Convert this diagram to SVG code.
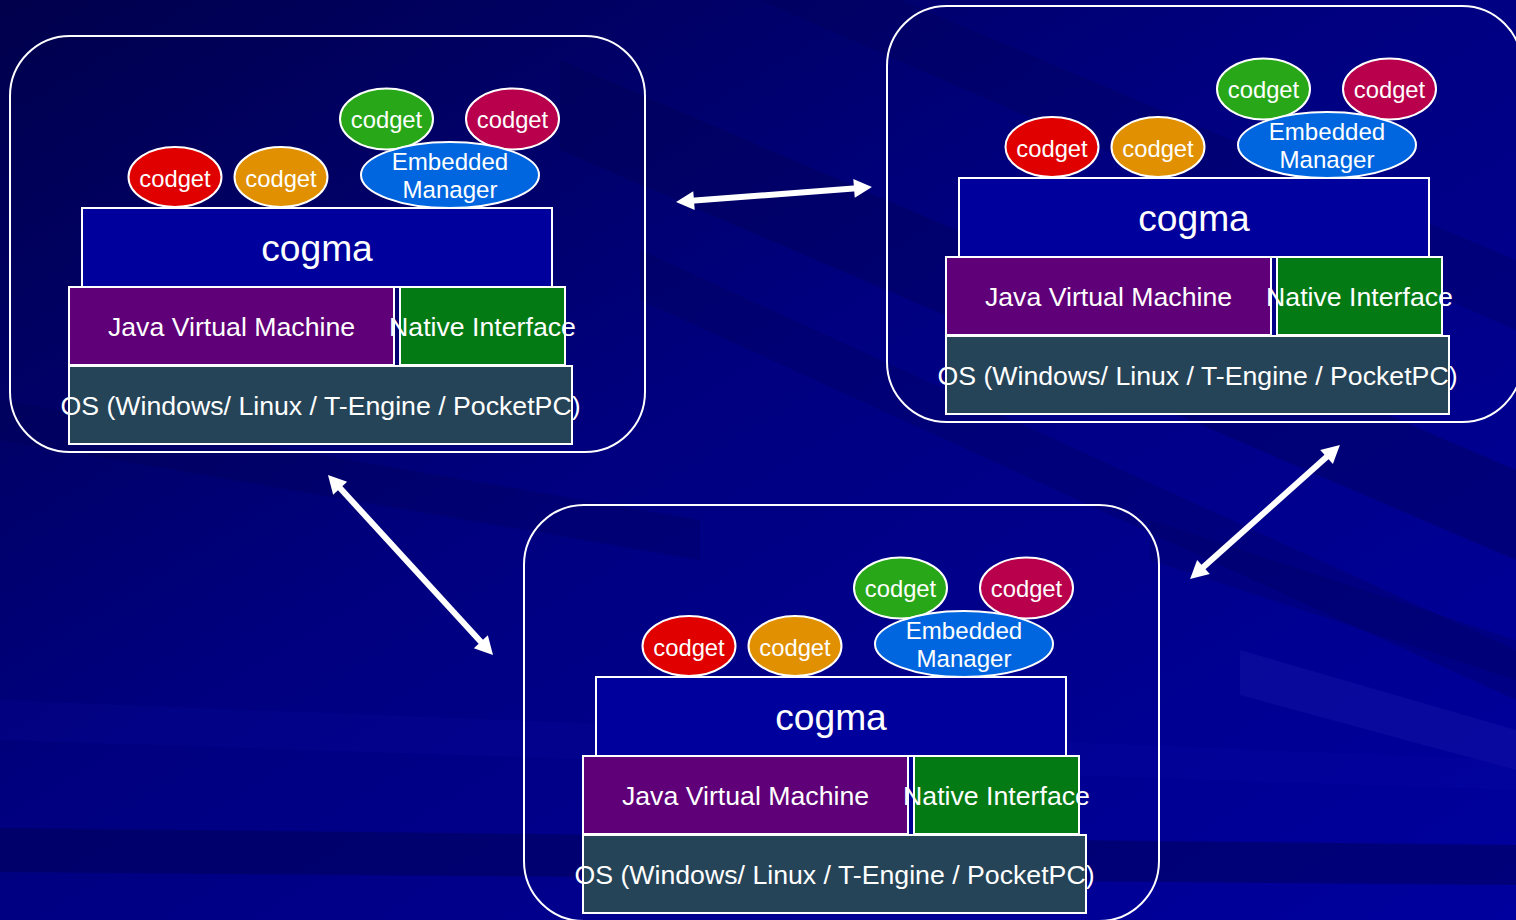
<svg xmlns="http://www.w3.org/2000/svg" width="1516" height="920" viewBox="0 0 1516 920">
  <defs>
    <linearGradient id="bg" x1="0" y1="0" x2="1" y2="1">
      <stop offset="0" stop-color="#00004c"/>
      <stop offset="0.45" stop-color="#000080"/>
      <stop offset="1" stop-color="#00009e"/>
    </linearGradient>
    <marker id="head" markerUnits="userSpaceOnUse" markerWidth="40" markerHeight="24" viewBox="-10 -12 30 24" refX="0" refY="0" orient="auto-start-reverse" overflow="visible">
      <path d="M-6,-9.5 L12,0 L-6,9.5 Z" fill="#ffffff"/>
    </marker>
    <style>
      .frame { fill: none; stroke: #ffffff; stroke-width: 2; }
      .box, .bubble { stroke: #ffffff; stroke-width: 2; }
      .cogma { fill: #00009c; }
      .jvm { fill: #5f0078; }
      .native { fill: #047a14; }
      .os { fill: #254458; }
      .red { fill: #e00000; }
      .orange { fill: #e09000; }
      .green { fill: #28a818; }
      .crimson { fill: #b8004c; }
      .manager { fill: #0066e0; }
      text { font-family: "Liberation Sans", Arial, sans-serif; fill: #ffffff; text-anchor: middle; }
      .t-small { font-size: 23.8px; }
      .t-mgr { font-size: 24.1px; }
      .t-mid { font-size: 26.7px; }
      .t-big { font-size: 37.2px; }
      .link { stroke: #ffffff; stroke-width: 6; fill: none; marker-start: url(#head); marker-end: url(#head); }
    </style>
  </defs>

  <!-- backdrop with soft diagonal streaks -->
  <g id="backdrop">
    <rect x="0" y="0" width="1516" height="920" fill="url(#bg)"/>
    <polygon points="560,60 1516,470 1516,560 560,150" fill="#000050" opacity="0.35"/>
    <polygon points="640,300 1516,700 1516,650 640,250" fill="#000050" opacity="0.25"/>
    <polygon points="900,0 1516,260 1516,330 760,0" fill="#000050" opacity="0.25"/>
    <polygon points="1150,560 1516,680 1516,640 1150,520" fill="#000060" opacity="0.3"/>
    <polygon points="1240,650 1516,730 1516,770 1240,695" fill="#3030c0" opacity="0.18"/>
    <polygon points="0,828 1516,845 1516,885 0,872" fill="#000050" opacity="0.45"/>
    <polygon points="0,740 1516,790 1516,760 0,700" fill="#1010b0" opacity="0.15"/>
    <polygon points="0,440 700,560 700,520 0,400" fill="#000040" opacity="0.2"/>
  </g>

  <!-- left host -->
  <g id="host-a">
    <rect class="frame" x="10" y="36" width="635" height="416" rx="60" ry="60"/>
    <g id="a-codget-red"><ellipse class="bubble red" cx="175" cy="177" rx="46.5" ry="30"/><text class="t-small" x="175" y="187">codget</text></g>
    <g id="a-codget-orange"><ellipse class="bubble orange" cx="281" cy="177" rx="46.5" ry="30"/><text class="t-small" x="281" y="187">codget</text></g>
    <g id="a-codget-green"><ellipse class="bubble green" cx="386.5" cy="119" rx="46.5" ry="30.5"/><text class="t-small" x="386.5" y="128">codget</text></g>
    <g id="a-codget-crimson"><ellipse class="bubble crimson" cx="512.5" cy="119" rx="46.5" ry="30.5"/><text class="t-small" x="512.5" y="128">codget</text></g>
    <g id="a-manager"><ellipse class="bubble manager" cx="450" cy="175" rx="89" ry="33"/><text class="t-mgr" x="450" y="170">Embedded</text><text class="t-mgr" x="450" y="198">Manager</text></g>
    <g id="a-cogma"><rect class="box cogma" x="82" y="208" width="470" height="79"/><text class="t-big" x="317" y="261">cogma</text></g>
    <g id="a-jvm"><rect class="box jvm" x="69" y="287" width="325" height="78"/><text class="t-mid" x="231.5" y="336">Java Virtual Machine</text></g>
    <g id="a-native"><rect class="box native" x="400" y="287" width="165" height="78"/><text class="t-mid" x="482.5" y="336">Native Interface</text></g>
    <g id="a-os"><rect class="box os" x="69" y="366" width="503" height="78"/><text class="t-mid" x="320.5" y="414.5">OS (Windows/ Linux / T-Engine / PocketPC)</text></g>
  </g>

  <!-- right host -->
  <g id="host-b" transform="translate(877,-30)">
    <rect class="frame" x="10" y="36" width="635" height="416" rx="60" ry="60"/>
    <g id="b-codget-red"><ellipse class="bubble red" cx="175" cy="177" rx="46.5" ry="30"/><text class="t-small" x="175" y="187">codget</text></g>
    <g id="b-codget-orange"><ellipse class="bubble orange" cx="281" cy="177" rx="46.5" ry="30"/><text class="t-small" x="281" y="187">codget</text></g>
    <g id="b-codget-green"><ellipse class="bubble green" cx="386.5" cy="119" rx="46.5" ry="30.5"/><text class="t-small" x="386.5" y="128">codget</text></g>
    <g id="b-codget-crimson"><ellipse class="bubble crimson" cx="512.5" cy="119" rx="46.5" ry="30.5"/><text class="t-small" x="512.5" y="128">codget</text></g>
    <g id="b-manager"><ellipse class="bubble manager" cx="450" cy="175" rx="89" ry="33"/><text class="t-mgr" x="450" y="170">Embedded</text><text class="t-mgr" x="450" y="198">Manager</text></g>
    <g id="b-cogma"><rect class="box cogma" x="82" y="208" width="470" height="79"/><text class="t-big" x="317" y="261">cogma</text></g>
    <g id="b-jvm"><rect class="box jvm" x="69" y="287" width="325" height="78"/><text class="t-mid" x="231.5" y="336">Java Virtual Machine</text></g>
    <g id="b-native"><rect class="box native" x="400" y="287" width="165" height="78"/><text class="t-mid" x="482.5" y="336">Native Interface</text></g>
    <g id="b-os"><rect class="box os" x="69" y="366" width="503" height="78"/><text class="t-mid" x="320.5" y="414.5">OS (Windows/ Linux / T-Engine / PocketPC)</text></g>
  </g>

  <!-- lower host -->
  <g id="host-c" transform="translate(514,469)">
    <rect class="frame" x="10" y="36" width="635" height="416" rx="60" ry="60"/>
    <g id="c-codget-red"><ellipse class="bubble red" cx="175" cy="177" rx="46.5" ry="30"/><text class="t-small" x="175" y="187">codget</text></g>
    <g id="c-codget-orange"><ellipse class="bubble orange" cx="281" cy="177" rx="46.5" ry="30"/><text class="t-small" x="281" y="187">codget</text></g>
    <g id="c-codget-green"><ellipse class="bubble green" cx="386.5" cy="119" rx="46.5" ry="30.5"/><text class="t-small" x="386.5" y="128">codget</text></g>
    <g id="c-codget-crimson"><ellipse class="bubble crimson" cx="512.5" cy="119" rx="46.5" ry="30.5"/><text class="t-small" x="512.5" y="128">codget</text></g>
    <g id="c-manager"><ellipse class="bubble manager" cx="450" cy="175" rx="89" ry="33"/><text class="t-mgr" x="450" y="170">Embedded</text><text class="t-mgr" x="450" y="198">Manager</text></g>
    <g id="c-cogma"><rect class="box cogma" x="82" y="208" width="470" height="79"/><text class="t-big" x="317" y="261">cogma</text></g>
    <g id="c-jvm"><rect class="box jvm" x="69" y="287" width="325" height="78"/><text class="t-mid" x="231.5" y="336">Java Virtual Machine</text></g>
    <g id="c-native"><rect class="box native" x="400" y="287" width="165" height="78"/><text class="t-mid" x="482.5" y="336">Native Interface</text></g>
    <g id="c-os"><rect class="box os" x="69" y="366" width="503" height="78"/><text class="t-mid" x="320.5" y="414.5">OS (Windows/ Linux / T-Engine / PocketPC)</text></g>
  </g>

  <!-- two-way links between hosts -->
  <g id="connectors">
    <line class="link" x1="688" y1="201.1" x2="860" y2="187.9"/>
    <line class="link" x1="336.1" y1="483.8" x2="484.9" y2="646.2"/>
    <line class="link" x1="1331" y1="453" x2="1199" y2="571"/>
  </g>
</svg>
